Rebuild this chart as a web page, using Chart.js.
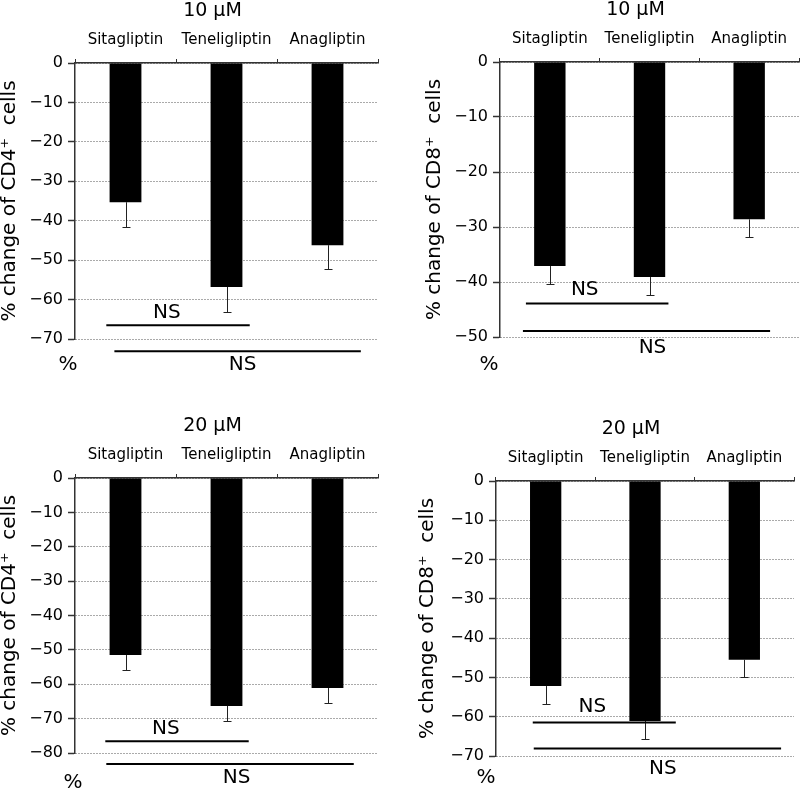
<!DOCTYPE html>
<html>
<head>
<meta charset="utf-8">
<script src="https://cdn.jsdelivr.net/npm/chart.js@4"></script>
<style>
  body { margin: 0; background: #fff; }
  #wrap { position: relative; width: 801px; height: 790px; overflow: hidden; }
  canvas { position: absolute; }
</style>
</head>
<body>
<div id="wrap">
  <canvas id="p1" width="400" height="390" style="left:0;top:0"></canvas>
  <canvas id="p2" width="401" height="390" style="left:400px;top:0"></canvas>
  <canvas id="p3" width="400" height="400" style="left:0;top:390px"></canvas>
  <canvas id="p4" width="401" height="400" style="left:400px;top:390px"></canvas>
</div>
<script>
// DATA

const drugs = ["Sitagliptin", "Teneligliptin", "Anagliptin"];

// 10 µM
const cd4At10 = [-35.3, -56.8, -46.2];
const cd4At10Err = [6.3, 6.4, 6.1];
const cd8At10 = [-37.1, -39.1, -28.6];
const cd8At10Err = [3.3, 3.3, 3.3];

// 20 µM
const cd4At20 = [-51.5, -66.3, -61.1];
const cd4At20Err = [4.3, 4.5, 4.4];
const cd8At20 = [-52.2, -61.1, -45.5];
const cd8At20Err = [4.6, 4.5, 4.5];

const yMins = [-70, -50, -80, -70];

// NS brackets: [from category, to category, y value]
const nsCd4At10 = [[-0.19, 1.23, -66.5], [-0.11, 2.33, -73.1]];
const nsCd8At10 = [[-0.24, 1.19, -43.9], [-0.27, 2.21, -48.9]];
const nsCd4At20 = [[-0.20, 1.22, -76.6], [-0.19, 2.26, -83.2]];
const nsCd8At20 = [[-0.13, 1.31, -61.5], [-0.12, 2.37, -68.1]];


// LAYOUT

const FONT = "'DejaVu Sans', Verdana, sans-serif";
Chart.defaults.font.family = FONT;
Chart.defaults.color = "#000";

const panels = [
    { id: "p1", title: "10 µM", cell: "CD4", values: cd4At10, errors: cd4At10Err, min: yMins[0], ns: nsCd4At10,
      pad: { left: 0, right: 22, top: 0, bottom: 51 }, yWidth: 75, xHeight: 63,
      nsText: [[0.41, -12], [1.16, 14]], pct: [-7, 26] },
    { id: "p2", title: "10 µM", cell: "CD8", values: cd8At10, errors: cd8At10Err, min: yMins[1], ns: nsCd8At10,
      pad: { left: 25, right: 2, top: 0, bottom: 53 }, yWidth: 75, xHeight: 62,
      nsText: [[0.35, -14], [1.03, 17]], pct: [-11, 28] },
    { id: "p3", title: "20 µM", cell: "CD4", values: cd4At20, errors: cd4At20Err, min: yMins[2], ns: nsCd4At20,
      pad: { left: 0, right: 22, top: 0, bottom: 37 }, yWidth: 75, xHeight: 88,
      nsText: [[0.40, -13], [1.10, 14]], pct: [-2, 30] },
    { id: "p4", title: "20 µM", cell: "CD8", values: cd8At20, errors: cd8At20Err, min: yMins[3], ns: nsCd8At20,
      pad: { left: 18, right: 7, top: 0, bottom: 34 }, yWidth: 78, xHeight: 91,
      nsText: [[0.47, -16], [1.18, 20]], pct: [-10, 22] }
];


// ERROR BARS, NS BRACKETS, TITLE

const extras = {
    id: "extras",
    afterDraw(chart) {
        const o = chart.options.plugins.extras;
        const { ctx, chartArea: a } = chart;
        const x = chart.scales.x, y = chart.scales.y;
        ctx.save();

        // one-sided error bars
        ctx.strokeStyle = "#222";
        ctx.lineWidth = 1;
        o.values.forEach((v, i) => {
            const px = Math.round(x.getPixelForValue(i)) + 0.5;
            const y1 = y.getPixelForValue(v);
            const y2 = Math.round(y.getPixelForValue(v - o.errors[i])) + 0.5;
            ctx.beginPath();
            ctx.moveTo(px, y1);
            ctx.lineTo(px, y2);
            ctx.moveTo(px - 4, y2);
            ctx.lineTo(px + 4, y2);
            ctx.stroke();
        });

        // NS brackets
        ctx.strokeStyle = "#000";
        ctx.lineWidth = 2;
        ctx.fillStyle = "#000";
        ctx.textAlign = "center";
        ctx.textBaseline = "middle";
        ctx.font = "20px " + FONT;
        o.ns.forEach(([from, to, val], k) => {
            const py = y.getPixelForValue(val);
            ctx.beginPath();
            ctx.moveTo(x.getPixelForValue(from), py);
            ctx.lineTo(x.getPixelForValue(to), py);
            ctx.stroke();
            const [tx, dy] = o.nsText[k];
            ctx.fillText("NS", x.getPixelForValue(tx), py + dy);
        });

        ctx.fillText("%", a.left + o.pct[0], a.bottom + o.pct[1]);

        ctx.font = "19px " + FONT;
        ctx.fillText(o.title, (a.left + a.right) / 2 - 14, a.top - 52);
        ctx.restore();
    }
};

function makePanel(p) {
    const ctx = document.getElementById(p.id).getContext("2d");
    return new Chart(ctx, {
        type: "bar",
        data: {
            labels: drugs,
            datasets: [{
                data: p.values,
                backgroundColor: "#000",
                borderWidth: 0,
                barPercentage: 0.315,
                categoryPercentage: 1
            }]
        },
        options: {
            responsive: false,
            animation: false,
            layout: { padding: p.pad },
            plugins: {
                legend: { display: false },
                tooltip: { enabled: false },
                extras: p
            },
            scales: {
                x: {
                    position: "top",
                    afterFit: s => { s.height = p.xHeight; },
                    grid: { offset: true, drawOnChartArea: false, drawTicks: true, tickLength: 4, color: "#333", lineWidth: 1 },
                    border: { display: true, color: "#333", width: 1.5 },
                    ticks: { font: { size: 15 }, color: "#000", padding: 10, maxRotation: 0 }
                },
                y: {
                    min: p.min,
                    max: 0,
                    afterFit: s => { s.width = p.yWidth; },
                    grid: { color: "#555", lineWidth: 1, tickLength: 7, tickColor: "#333", tickWidth: 1.5 },
                    border: { display: true, color: "#333", width: 1.5, dash: [1, 2] },
                    ticks: {
                        stepSize: 10,
                        font: { size: 16 },
                        color: "#000",
                        padding: 5,
                        callback: v => String(v).replace("-", "\u2212")
                    },
                    title: {
                        display: true,
                        text: "% change of " + p.cell + "\u207A  cells",
                        font: { size: 20, lineHeight: 1 },
                        color: "#000",
                        padding: 0
                    }
                }
            }
        },
        plugins: [extras]
    });
}

panels.forEach(makePanel);
</script>
</body>
</html>
